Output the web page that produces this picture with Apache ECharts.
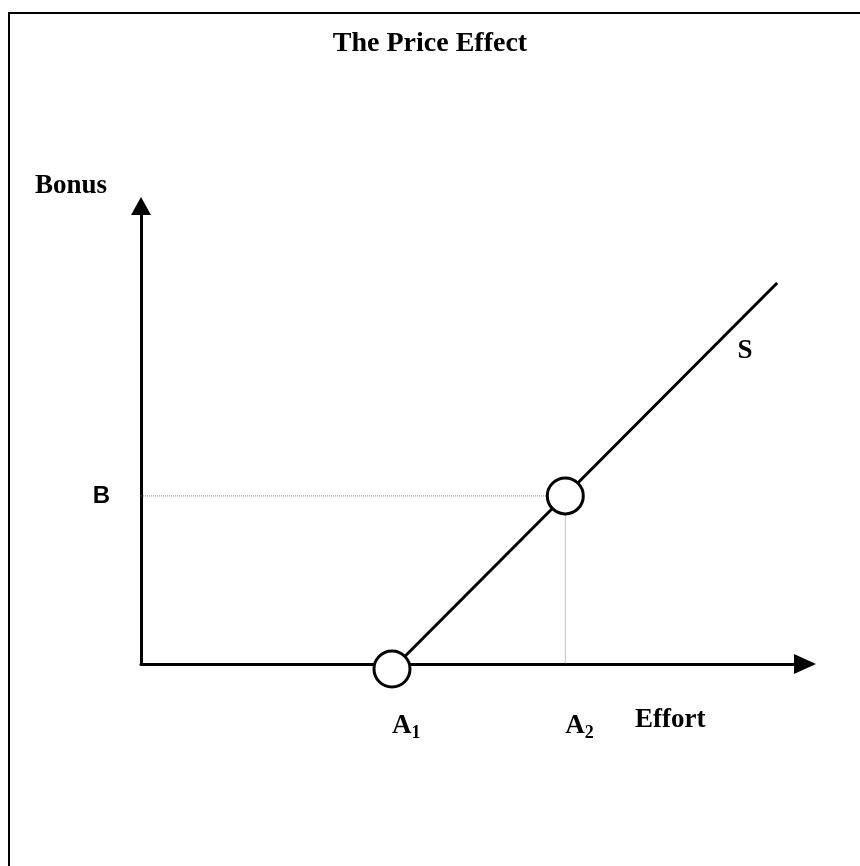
<!DOCTYPE html>
<html>
<head>
<meta charset="utf-8">
<script src="https://cdn.jsdelivr.net/npm/echarts@6/dist/echarts.min.js"></script>
<style>
  html, body { margin: 0; padding: 0; background: #fff; }
  #chart { width: 860px; height: 866px; }
</style>
</head>
<body>
<div id="chart"></div>
<script>
// axis range (arbitrary units, 0..100 on both axes)
var xRange = [0, 100];
var yRange = [0, 100];

// supply curve S
var supplyLine = [[38.6, 0], [95.8, 83.2]];
// the two marked points (A1 on the axis, A2 / B on the curve)
var markedPoints = [[37.8, -1.1], [63.9, 36.7]];
// dotted guide from B across to the curve and down to A2
var guideLine = [[0, 36.7], [63.9, 36.7], [63.9, 0]];

// tick labels
var xTickValues = [37.8, 63.9];
var xTickLabels = ["A{s|1}", "A{s|2}"];
var yTickValues = [36.7];
var yTickLabels = ["B"];

var serif = "'Liberation Serif', 'Times New Roman', serif";
var sans = "'Liberation Sans', Arial, sans-serif";

var chart = echarts.init(document.getElementById("chart"));
chart.setOption({
    animation: false,
    backgroundColor: "#fff",
    title: {
        text: "The Price Effect",
        left: "center",
        top: 25,
        textStyle: { fontFamily: serif, fontWeight: "bold", fontSize: 28, color: "#000" }
    },
    grid: { left: 141, right: 55, top: 206, bottom: 202 },
    xAxis: {
        type: "value",
        min: xRange[0],
        max: xRange[1],
        axisLine: {
            lineStyle: { color: "#000", width: 3 },
            symbol: ["none", "triangle"],
            symbolSize: [20, 22]
        },
        axisTick: { show: false },
        splitLine: { show: false },
        axisLabel: {
            customValues: xTickValues,
            align: "left",
            margin: 46,
            formatter: function (v) {
                return xTickLabels[xTickValues.indexOf(v)];
            },
            fontFamily: serif,
            fontWeight: "bold",
            fontSize: 27,
            color: "#000",
            rich: {
                s: { fontFamily: serif, fontWeight: "bold", fontSize: 18, color: "#000", padding: [14, 0, 0, 0] }
            }
        }
    },
    yAxis: {
        type: "value",
        min: yRange[0],
        max: yRange[1],
        axisLine: {
            lineStyle: { color: "#000", width: 3 },
            symbol: ["none", "triangle"],
            symbolSize: [20, 18]
        },
        axisTick: { show: false },
        splitLine: { show: false },
        axisLabel: {
            customValues: yTickValues,
            margin: 31,
            padding: [14, 0, 0, 0],
            formatter: function (v) {
                return yTickLabels[yTickValues.indexOf(v)];
            },
            fontFamily: sans,
            fontWeight: "bold",
            fontSize: 24,
            color: "#000"
        }
    },
    series: [
        {
            type: "line",
            data: guideLine,
            symbol: "none",
            silent: true,
            lineStyle: { color: "#888", width: 1, type: "dotted" },
            z: 1
        },
        {
            type: "line",
            data: supplyLine,
            symbol: "none",
            silent: true,
            lineStyle: { color: "#000", width: 3 },
            z: 2
        },
        {
            type: "scatter",
            data: markedPoints,
            clip: false,
            symbol: "circle",
            symbolSize: 36,
            silent: true,
            itemStyle: { color: "#fff", borderColor: "#000", borderWidth: 3, opacity: 1 },
            z: 3
        }
    ],
    graphic: [
        {
            type: "rect",
            shape: { x: 9, y: 13, width: 900, height: 900 },
            style: { fill: "none", stroke: "#000", lineWidth: 2 },
            silent: true
        },
        {
            type: "text",
            x: 35, y: 186,
            style: { text: "Bonus", fontFamily: serif, fontWeight: "bold", fontSize: 27, fill: "#000", align: "left", verticalAlign: "middle" }
        },
        {
            type: "text",
            x: 635, y: 720,
            style: { text: "Effort", fontFamily: serif, fontWeight: "bold", fontSize: 27, fill: "#000", align: "left", verticalAlign: "middle" }
        },
        {
            type: "text",
            x: 745, y: 351,
            style: { text: "S", fontFamily: serif, fontWeight: "bold", fontSize: 27, fill: "#000", align: "center", verticalAlign: "middle" }
        }
    ]
});
</script>
</body>
</html>
